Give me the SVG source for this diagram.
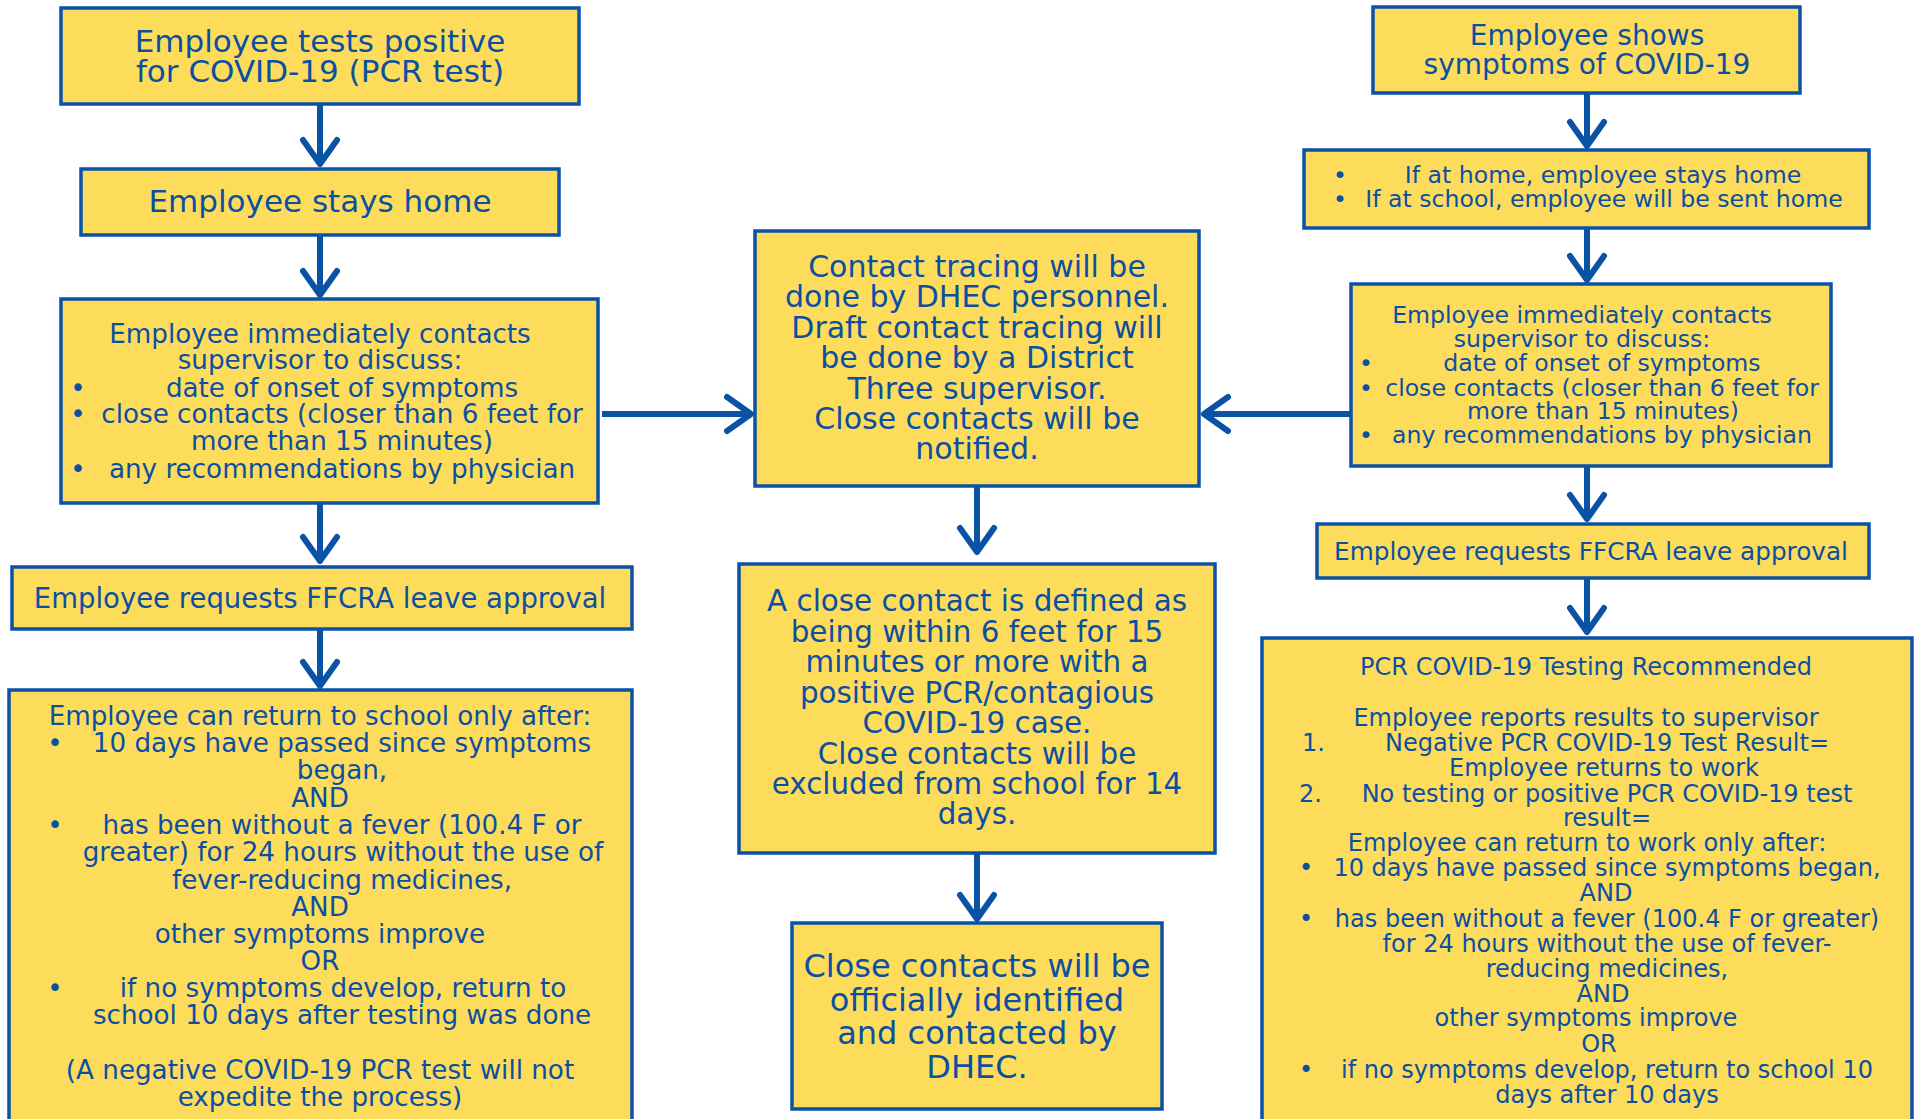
<svg xmlns="http://www.w3.org/2000/svg" width="1919" height="1119" viewBox="0 0 1919 1119">
<defs>
<style>
.box{fill:#FDDC5C;stroke:#0A52A6;stroke-width:3.5}
.t{font-family:"DejaVu Sans","Liberation Sans",sans-serif;fill:#0B4FA3;text-anchor:middle}
.s{text-anchor:start}
.con{fill:none;stroke:#0A52A6;stroke-width:6}
.f31{font-size:31px}.f28{font-size:28px}.f27{font-size:27.5px}.f26{font-size:26.2px}
.f30{font-size:30px}.f295{font-size:29.4px}.f32{font-size:32px}.f24{font-size:24px}.f237{font-size:23.6px}.f247{font-size:24.7px}
</style>
<marker id="ah" markerUnits="userSpaceOnUse" markerWidth="34" markerHeight="44" viewBox="0 0 34 44" refX="29" refY="22" orient="auto">
<path d="M5,5 L29,22 L5,39" fill="none" stroke="#0A52A6" stroke-width="6" stroke-linecap="round" stroke-linejoin="round"/>
</marker>
</defs>
<rect width="1919" height="1119" fill="#FFFFFF"/>

<g id="connectors">
<path class="con" d="M320,104 V164" marker-end="url(#ah)"/>
<path class="con" d="M320,235 V295" marker-end="url(#ah)"/>
<path class="con" d="M320,503 V561" marker-end="url(#ah)"/>
<path class="con" d="M320,629 V686" marker-end="url(#ah)"/>
<path class="con" d="M602,414 H751" marker-end="url(#ah)"/>
<path class="con" d="M1351,414 H1204" marker-end="url(#ah)"/>
<path class="con" d="M977,486 V552" marker-end="url(#ah)"/>
<path class="con" d="M977,853 V919" marker-end="url(#ah)"/>
<path class="con" d="M1587,93 V146" marker-end="url(#ah)"/>
<path class="con" d="M1587,228 V280" marker-end="url(#ah)"/>
<path class="con" d="M1587,466 V519" marker-end="url(#ah)"/>
<path class="con" d="M1587,578 V632" marker-end="url(#ah)"/>
</g>

<g id="n_positive">
<rect class="box" x="61" y="8" width="518" height="96"/>
<text class="t f31" x="320" y="52">Employee tests positive</text>
<text class="t f31" x="320" y="82">for COVID-19 (PCR test)</text>
</g>

<g id="n_stays_home">
<rect class="box" x="81" y="169" width="478" height="66"/>
<text class="t f31" x="320" y="212">Employee stays home</text>
</g>

<g id="n_contacts_left">
<rect class="box" x="61" y="299" width="537" height="204"/>
<g class="t f26">
<text x="320" y="343">Employee immediately contacts</text>
<text x="320" y="369">supervisor to discuss:</text>
<text x="78" y="397">•</text><text x="342" y="397">date of onset of symptoms</text>
<text x="78" y="423">•</text><text x="342" y="423">close contacts (closer than 6 feet for</text>
<text x="342" y="450">more than 15 minutes)</text>
<text x="78" y="478">•</text><text x="342" y="478">any recommendations by physician</text>
</g>
</g>

<g id="n_ffcra_left">
<rect class="box" x="12" y="567" width="620" height="62"/>
<text class="t f27" x="320" y="608">Employee requests FFCRA leave approval</text>
</g>

<g id="n_return_left">
<rect class="box" x="9" y="690" width="623" height="450"/>
<g class="t f26">
<text x="320" y="724.5">Employee can return to school only after:</text>
<text x="55" y="752">•</text><text x="342" y="752">10 days have passed since symptoms</text>
<text x="342" y="779">began,</text>
<text x="320" y="806.5">AND</text>
<text x="55" y="834">•</text><text x="342" y="834">has been without a fever (100.4 F or</text>
<text x="343" y="861">greater) for 24 hours without the use of</text>
<text x="342" y="888.5">fever-reducing medicines,</text>
<text x="320" y="915.5">AND</text>
<text x="320" y="943">other symptoms improve</text>
<text x="320" y="970">OR</text>
<text x="55" y="997">•</text><text x="343" y="997">if no symptoms develop, return to</text>
<text x="342" y="1024">school 10 days after testing was done</text>
<text x="320" y="1079">(A negative COVID-19 PCR test will not</text>
<text x="320" y="1106">expedite the process)</text>
</g>
</g>

<g id="n_tracing">
<rect class="box" x="755" y="231" width="444" height="255"/>
<g class="t f30">
<text x="977" y="277">Contact tracing will be</text>
<text x="977" y="307">done by DHEC personnel.</text>
<text x="977" y="337.5">Draft contact tracing will</text>
<text x="977" y="368">be done by a District</text>
<text x="977" y="398.5">Three supervisor.</text>
<text x="977" y="429">Close contacts will be</text>
<text x="977" y="459">notified.</text>
</g>
</g>

<g id="n_close_contact_def">
<rect class="box" x="739" y="564" width="476" height="289"/>
<g class="t f295">
<text x="977" y="611">A close contact is defined as</text>
<text x="977" y="641.5">being within 6 feet for 15</text>
<text x="977" y="672">minutes or more with a</text>
<text x="977" y="702.5">positive PCR/contagious</text>
<text x="977" y="733">COVID-19 case.</text>
<text x="977" y="763.5">Close contacts will be</text>
<text x="977" y="794">excluded from school for 14</text>
<text x="977" y="824">days.</text>
</g>
</g>

<g id="n_identified">
<rect class="box" x="792" y="923" width="370" height="186"/>
<g class="t f32">
<text x="977" y="977">Close contacts will be</text>
<text x="977" y="1010.5">officially identified</text>
<text x="977" y="1044">and contacted by</text>
<text x="977" y="1077.5">DHEC.</text>
</g>
</g>

<g id="n_symptoms">
<rect class="box" x="1373" y="7" width="427" height="86"/>
<text class="t f28" x="1587" y="45">Employee shows</text>
<text class="t f28" x="1587" y="74">symptoms of COVID-19</text>
</g>

<g id="n_home_school">
<rect class="box" x="1304" y="150" width="565" height="78"/>
<g class="t f237">
<text x="1340" y="183">•</text><text x="1603" y="183">If at home, employee stays home</text>
<text x="1340" y="207">•</text><text x="1604" y="207">If at school, employee will be sent home</text>
</g>
</g>

<g id="n_contacts_right">
<rect class="box" x="1351" y="284" width="480" height="182"/>
<g class="t f237">
<text x="1582" y="323">Employee immediately contacts</text>
<text x="1582" y="347">supervisor to discuss:</text>
<text x="1366" y="371">•</text><text x="1602" y="371">date of onset of symptoms</text>
<text x="1366" y="396">•</text><text x="1602" y="396">close contacts (closer than 6 feet for</text>
<text x="1603" y="419">more than 15 minutes)</text>
<text x="1366" y="443">•</text><text x="1602" y="443">any recommendations by physician</text>
</g>
</g>

<g id="n_ffcra_right">
<rect class="box" x="1317" y="524" width="552" height="54"/>
<text class="t f247" x="1591" y="560">Employee requests FFCRA leave approval</text>
</g>

<g id="n_testing">
<rect class="box" x="1262" y="638" width="650" height="500"/>
<g class="t f24">
<text x="1586" y="675">PCR COVID-19 Testing Recommended</text>
<text x="1586" y="725.5">Employee reports results to supervisor</text>
<text class="s" x="1302" y="751">1.</text><text x="1607" y="751">Negative PCR COVID-19 Test Result=</text>
<text x="1604" y="776">Employee returns to work</text>
<text class="s" x="1299" y="802">2.</text><text x="1607" y="802">No testing or positive PCR COVID-19 test</text>
<text x="1607" y="826">result=</text>
<text x="1587" y="851">Employee can return to work only after:</text>
<text x="1306" y="876">•</text><text x="1607" y="876">10 days have passed since symptoms began,</text>
<text x="1606" y="901">AND</text>
<text x="1306" y="927">•</text><text x="1607" y="927">has been without a fever (100.4 F or greater)</text>
<text x="1607" y="952">for 24 hours without the use of fever-</text>
<text x="1607" y="976.5">reducing medicines,</text>
<text x="1603" y="1002">AND</text>
<text x="1586" y="1026">other symptoms improve</text>
<text x="1599" y="1052">OR</text>
<text x="1306" y="1078">•</text><text x="1607" y="1078">if no symptoms develop, return to school 10</text>
<text x="1607" y="1102.5">days after 10 days</text>
</g>
</g>
</svg>
